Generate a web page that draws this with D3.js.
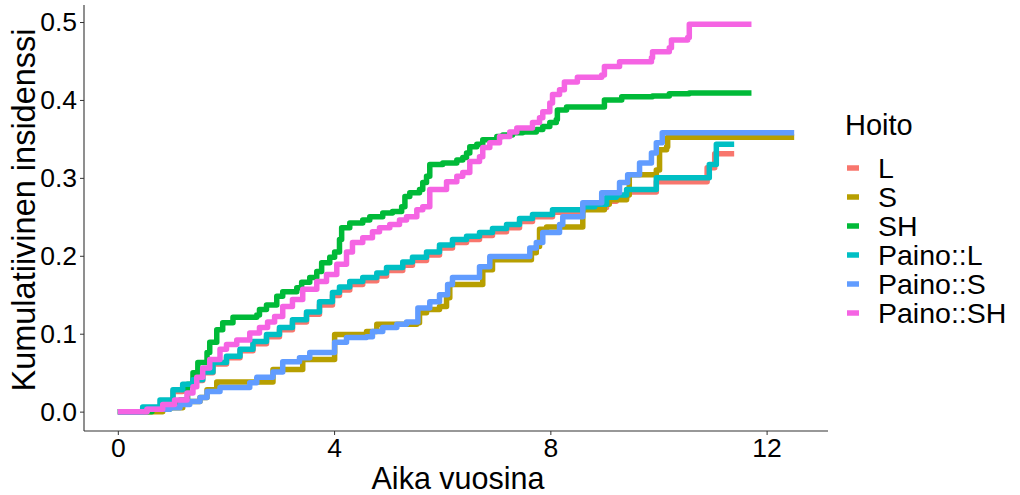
<!DOCTYPE html>
<html lang="fi">
<head>
<meta charset="utf-8">
<title>Kumulatiivinen insidenssi</title>
<script src="https://d3js.org/d3.v7.min.js"></script>
<style>
  body { margin: 0; background: #fff; }
  text { font-family: "Liberation Sans", Arial, sans-serif; fill: #000; }
</style>
</head>
<body>
<script>
// hoitoryhmat ja niiden varit (ggplot-oletuspaletti)
var groups = ["L", "S", "SH", "Paino::L", "Paino::S", "Paino::SH"];
var colors = ["#F8766D", "#B79F00", "#00BA38", "#00BFC4", "#619CFF", "#F564E3"];

// porraskayrat: [aika vuosina, kumulatiivinen insidenssi]
var L = [[0,0],[0.54,0.004],[0.83,0.012],[1.02,0.026],[1.20,0.034],[1.39,0.040],[1.57,0.050],[1.76,0.061],
  [2.01,0.069],[2.26,0.078],[2.50,0.087],[2.75,0.096],[2.99,0.105],[3.23,0.115],[3.49,0.125],[3.73,0.137],
  [3.97,0.149],[4.10,0.156],[4.29,0.163],[4.53,0.168],[4.79,0.174],[4.97,0.181],[5.27,0.188],[5.45,0.194],
  [5.71,0.201],[5.95,0.210],[6.19,0.217],[6.45,0.221],[6.69,0.226],[6.93,0.231],[7.19,0.236],[7.43,0.244],
  [7.67,0.250],[8.04,0.256],[8.60,0.260],[8.82,0.262],[9.04,0.270],[9.22,0.274],[9.41,0.282],[9.96,0.295],
  [10.90,0.313],[11.04,0.331],[11.40,0.331]];

var S = [[0,0],[0.83,0.005],[1.20,0.013],[1.52,0.018],[1.65,0.028],[1.83,0.038],[2.87,0.054],[3.42,0.067],
  [4.01,0.099],[4.60,0.103],[4.79,0.112],[5.53,0.114],[5.58,0.127],[5.71,0.131],[5.95,0.135],[6.08,0.146],
  [6.14,0.163],[6.75,0.182],[6.93,0.195],[7.65,0.204],[7.74,0.212],[7.80,0.234],[7.93,0.237],[8.60,0.259],
  [9.00,0.266],[9.09,0.272],[9.41,0.278],[9.46,0.304],[9.96,0.310],[10.02,0.336],[10.15,0.340],[10.17,0.352],
  [12.51,0.352]];

var SH = [[0,0],[0.63,0.003],[0.96,0.009],[1.15,0.015],[1.29,0.035],[1.39,0.050],[1.48,0.063],[1.65,0.076],
  [1.70,0.089],[1.83,0.105],[1.94,0.114],[2.13,0.121],[2.57,0.124],[2.62,0.131],[2.75,0.137],[2.94,0.148],
  [3.05,0.154],[3.31,0.159],[3.40,0.166],[3.55,0.172],[3.68,0.180],[3.77,0.191],[3.92,0.198],[4.01,0.205],
  [4.10,0.221],[4.14,0.236],[4.29,0.242],[4.53,0.246],[4.66,0.250],[4.90,0.255],[5.08,0.257],[5.25,0.263],
  [5.31,0.276],[5.40,0.281],[5.58,0.285],[5.64,0.294],[5.71,0.302],[5.77,0.317],[6.01,0.319],[6.27,0.323],
  [6.38,0.326],[6.45,0.332],[6.51,0.340],[6.64,0.343],[6.75,0.349],[7.01,0.353],[7.12,0.355],[7.30,0.358],
  [7.49,0.359],[7.74,0.362],[7.86,0.366],[7.99,0.371],[8.11,0.375],[8.13,0.387],[8.30,0.391],[9.00,0.400],
  [9.32,0.404],[9.89,0.405],[10.20,0.408],[10.57,0.409],[11.72,0.409]];

var PL = [[0,0],[0.46,0.006],[0.78,0.015],[1.02,0.028],[1.20,0.035],[1.39,0.041],[1.57,0.051],[1.76,0.063],
  [2.01,0.071],[2.26,0.080],[2.50,0.090],[2.75,0.099],[2.99,0.108],[3.23,0.118],[3.49,0.128],[3.73,0.141],
  [3.97,0.153],[4.10,0.160],[4.29,0.167],[4.53,0.172],[4.79,0.178],[4.97,0.185],[5.27,0.192],[5.45,0.198],
  [5.71,0.205],[5.95,0.214],[6.19,0.221],[6.45,0.225],[6.69,0.230],[6.93,0.235],[7.19,0.240],[7.43,0.248],
  [7.67,0.253],[8.04,0.259],[8.60,0.263],[8.82,0.266],[9.04,0.275],[9.22,0.278],[9.41,0.285],[9.96,0.300],
  [10.94,0.317],[11.07,0.343],[11.40,0.343]];

var PS = [[0,0],[0.54,0.003],[0.96,0.005],[1.15,0.009],[1.33,0.013],[1.52,0.018],[1.65,0.026],[1.89,0.031],
  [2.44,0.037],[2.57,0.044],[2.87,0.051],[3.05,0.064],[3.36,0.069],[3.55,0.076],[4.01,0.089],[4.23,0.095],
  [4.60,0.096],[4.71,0.103],[4.90,0.108],[5.16,0.112],[5.34,0.115],[5.55,0.133],[5.77,0.141],[5.95,0.150],
  [6.10,0.163],[6.19,0.172],[6.69,0.186],[6.88,0.199],[7.62,0.210],[7.74,0.217],[7.86,0.230],[8.17,0.240],
  [8.23,0.250],[8.60,0.268],[8.95,0.281],[9.28,0.294],[9.43,0.304],[9.65,0.319],[9.87,0.332],[9.96,0.345],
  [10.07,0.358],[12.51,0.358]];

var PSH = [[0,0],[0.54,0.003],[0.83,0.009],[1.05,0.015],[1.28,0.024],[1.39,0.032],[1.46,0.044],[1.57,0.056],
  [1.70,0.067],[1.89,0.080],[2.01,0.086],[2.20,0.092],[2.44,0.101],[2.62,0.108],[2.77,0.115],[2.90,0.122],
  [3.05,0.135],[3.23,0.144],[3.42,0.157],[3.68,0.167],[3.86,0.176],[4.05,0.189],[4.23,0.205],[4.34,0.217],
  [4.53,0.223],[4.71,0.231],[4.84,0.236],[5.03,0.240],[5.21,0.246],[5.34,0.250],[5.53,0.259],[5.64,0.263],
  [5.77,0.285],[6.08,0.295],[6.27,0.302],[6.38,0.307],[6.51,0.321],[6.69,0.327],[6.75,0.339],[6.88,0.345],
  [7.06,0.353],[7.25,0.359],[7.38,0.364],[7.67,0.371],[7.80,0.377],[7.86,0.385],[7.99,0.396],[8.04,0.407],
  [8.17,0.413],[8.26,0.423],[8.50,0.429],[8.95,0.432],[9.00,0.443],[9.28,0.449],[9.87,0.454],[9.89,0.462],
  [10.20,0.467],[10.24,0.477],[10.54,0.480],[10.57,0.497],[11.72,0.497]];

var xTicks = [0, 4, 8, 12];
var yTicks = [0, 0.1, 0.2, 0.3, 0.4, 0.5];

var series = [L, S, SH, PL, PS, PSH];

var W = 1020, H = 495;
var panel = {left: 84, right: 828, top: 5, bottom: 431};

var svg = d3.select("body").append("svg")
  .attr("width", W)
  .attr("height", H);

// ggplotin tapaan 5 % laajennus
var xmax = d3.max(series, function(s) { return d3.max(s, function(d) { return d[0]; }); });
var ymax = d3.max(series, function(s) { return d3.max(s, function(d) { return d[1]; }); });
var x = d3.scaleLinear().domain([-xmax * 0.05, xmax * 1.05]).range([panel.left, panel.right]);
var y = d3.scaleLinear().domain([-ymax * 0.05, ymax * 1.05]).range([panel.bottom, panel.top]);

var line = d3.line()
  .x(function(d) { return x(d[0]); })
  .y(function(d) { return y(d[1]); })
  .curve(d3.curveStepAfter);

svg.append("g").selectAll("path")
  .data(series)
  .enter()
  .append("path")
    .attr("d", line)
    .attr("fill", "none")
    .attr("stroke", function(d, i) { return colors[i]; })
    .attr("stroke-width", 5.5)
    .attr("stroke-linejoin", "round");

// akselit
var xAxis = svg.append("g")
  .attr("transform", "translate(0," + panel.bottom + ")")
  .call(d3.axisBottom(x).tickValues(xTicks).tickFormat(d3.format("d")).tickSizeOuter(0).tickSize(4).tickPadding(3));
var yAxis = svg.append("g")
  .attr("transform", "translate(" + panel.left + ",0)")
  .call(d3.axisLeft(y).tickValues(yTicks).tickFormat(d3.format(".1f")).tickSizeOuter(0).tickSize(4).tickPadding(3));

[xAxis, yAxis].forEach(function(g) {
  g.select(".domain").attr("stroke", "#333").attr("stroke-width", 1.1);
  g.selectAll(".tick line").attr("stroke", "#333");
  g.selectAll(".tick text").attr("font-size", 26.5).attr("fill", "#000")
    .attr("font-family", "'Liberation Sans', Arial, sans-serif");
});
// x-akselin viiva koko paneelin levyiseksi
xAxis.select(".domain").attr("d", "M" + panel.left + ",0H" + panel.right);
yAxis.select(".domain").attr("d", "M0," + panel.top + "V" + panel.bottom);

svg.append("text")
  .attr("x", (panel.left + panel.right) / 2 + 2)
  .attr("y", 489)
  .attr("text-anchor", "middle")
  .attr("font-size", 30.5)
  .text("Aika vuosina");

svg.append("text")
  .attr("transform", "translate(35,210) rotate(-90)")
  .attr("text-anchor", "middle")
  .attr("font-size", 32.5)
  .text("Kumulatiivinen insidenssi");

// selite
var legend = svg.append("g").attr("transform", "translate(845,0)");
legend.append("text")
  .attr("x", 0)
  .attr("y", 135)
  .attr("font-size", 29)
  .text("Hoito");

var item = legend.selectAll("g.item")
  .data(groups)
  .enter()
  .append("g")
    .attr("class", "item")
    .attr("transform", function(d, i) { return "translate(0," + (168 + i * 29) + ")"; });

item.append("line")
  .attr("x1", 2).attr("x2", 14)
  .attr("stroke", function(d, i) { return colors[i]; })
  .attr("stroke-width", 5.5);

item.append("text")
  .attr("x", 33)
  .attr("y", 10)
  .attr("font-size", 28.5)
  .text(function(d) { return d; });
</script>
</body>
</html>
